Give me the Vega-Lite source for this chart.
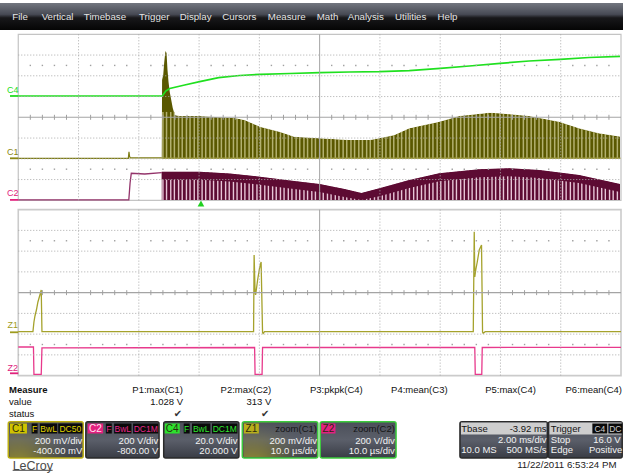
{
"$schema":"https://vega.github.io/schema/vega-lite/v6.json",
"width":624,"height":473,
"autosize":{"type":"fit","contains":"padding"},
"padding":0,
"background":"#ffffff",
"config":{"view":{"stroke":null},"axis":{"disable":true},"legend":{"disable":true},"font":"Liberation Sans"},
"resolve":{"scale":{"color":"independent","stroke":"independent"}},
"data":{"values":[{}]},
"datasets":{
"menu":[{"x":-0.099,"t":"File"},{"x":0.388,"t":"Vertical"},{"x":1.088,"t":"Timebase"},{"x":2.004,"t":"Trigger"},{"x":2.679,"t":"Display"},{"x":3.386,"t":"Cursors"},{"x":4.141,"t":"Measure"},{"x":4.953,"t":"Math"},{"x":5.466,"t":"Analysis"},{"x":6.252,"t":"Utilities"},{"x":6.957,"t":"Help"}],
"c1env":[{"x":2.381,"y":-1.98},{"x":2.386,"y":1.798},{"x":2.405,"y":2.039},{"x":2.422,"y":2.665},{"x":2.442,"y":3.195},{"x":2.46,"y":3.099},{"x":2.476,"y":2.28},{"x":2.493,"y":1.701},{"x":2.513,"y":1.219},{"x":2.538,"y":0.834},{"x":2.563,"y":0.448},{"x":2.596,"y":0.111},{"x":2.678,"y":0.063},{"x":3.01,"y":0.063},{"x":3.341,"y":0.0},{"x":3.589,"y":-0.034},{"x":3.755,"y":-0.13},{"x":4.01,"y":-0.453},{"x":4.335,"y":-0.694},{"x":4.579,"y":-0.935},{"x":4.998,"y":-1.012},{"x":5.495,"y":-1.094},{"x":5.828,"y":-1.094},{"x":5.992,"y":-1.012},{"x":6.24,"y":-0.853},{"x":6.488,"y":-0.53},{"x":6.985,"y":-0.212},{"x":7.317,"y":0.063},{"x":7.814,"y":0.222},{"x":7.979,"y":0.193},{"x":8.476,"y":0.063},{"x":8.974,"y":-0.212},{"x":9.304,"y":-0.53},{"x":9.635,"y":-0.771},{"x":9.983,"y":-0.925}],
"c2env":[{"x":2.381,"y":-2.622,"yb":-3.008},{"x":3.01,"y":-2.622,"yb":-3.008},{"x":3.507,"y":-2.708,"yb":-3.094},{"x":4.01,"y":-2.863,"yb":-3.249},{"x":4.508,"y":-3.046,"yb":-3.432},{"x":4.998,"y":-3.214,"yb":-3.6},{"x":5.412,"y":-3.455,"yb":-3.841},{"x":5.694,"y":-3.648,"yb":-3.98},{"x":5.992,"y":-3.422,"yb":-3.808},{"x":6.488,"y":-3.022,"yb":-3.408},{"x":6.985,"y":-2.699,"yb":-3.085},{"x":7.648,"y":-2.506,"yb":-2.892},{"x":8.145,"y":-2.458,"yb":-2.844},{"x":8.642,"y":-2.54,"yb":-2.926},{"x":9.304,"y":-2.781,"yb":-3.167},{"x":9.983,"y":-3.214,"yb":-3.6}],
"stripes":[{"x":2.40},{"x":2.46},{"x":2.53},{"x":2.59},{"x":2.66},{"x":2.72},{"x":2.79},{"x":2.85},{"x":2.92},{"x":2.98},{"x":3.05},{"x":3.11},{"x":3.18},{"x":3.24},{"x":3.31},{"x":3.37},{"x":3.44},{"x":3.50},{"x":3.57},{"x":3.63},{"x":3.70},{"x":3.76},{"x":3.83},{"x":3.89},{"x":3.96},{"x":4.02},{"x":4.09},{"x":4.15},{"x":4.22},{"x":4.28},{"x":4.35},{"x":4.41},{"x":4.48},{"x":4.54},{"x":4.61},{"x":4.67},{"x":4.74},{"x":4.80},{"x":4.87},{"x":4.93},{"x":5.00},{"x":5.06},{"x":5.13},{"x":5.19},{"x":5.26},{"x":5.32},{"x":5.39},{"x":5.45},{"x":5.52},{"x":5.58},{"x":5.65},{"x":5.71},{"x":5.78},{"x":5.84},{"x":5.91},{"x":5.97},{"x":6.04},{"x":6.10},{"x":6.17},{"x":6.23},{"x":6.30},{"x":6.36},{"x":6.43},{"x":6.49},{"x":6.56},{"x":6.62},{"x":6.69},{"x":6.75},{"x":6.82},{"x":6.88},{"x":6.95},{"x":7.01},{"x":7.08},{"x":7.14},{"x":7.21},{"x":7.27},{"x":7.34},{"x":7.40},{"x":7.47},{"x":7.53},{"x":7.60},{"x":7.66},{"x":7.73},{"x":7.79},{"x":7.86},{"x":7.92},{"x":7.99},{"x":8.05},{"x":8.12},{"x":8.18},{"x":8.25},{"x":8.31},{"x":8.38},{"x":8.44},{"x":8.51},{"x":8.57},{"x":8.64},{"x":8.70},{"x":8.77},{"x":8.83},{"x":8.90},{"x":8.96},{"x":9.03},{"x":9.09},{"x":9.16},{"x":9.22},{"x":9.29},{"x":9.35},{"x":9.42},{"x":9.48},{"x":9.55},{"x":9.61},{"x":9.68},{"x":9.74},{"x":9.81},{"x":9.87},{"x":9.94}],
"c1pre":[{"x":0,"y":-1.976},{"x":1.826,"y":-1.976},{"x":1.837,"y":-1.658},{"x":1.847,"y":-1.889},{"x":1.859,"y":-1.952},{"x":2.381,"y":-1.952}],
"c2pre":[{"x":0,"y":-3.98},{"x":1.834,"y":-3.98},{"x":1.855,"y":-3.166},{"x":1.875,"y":-2.699},{"x":2.099,"y":-2.733},{"x":2.381,"y":-2.67}],
"c4":[{"x":0,"y":1.027},{"x":2.389,"y":1.027},{"x":2.447,"y":1.267},{"x":2.513,"y":1.388},{"x":2.761,"y":1.557},{"x":3.01,"y":1.716},{"x":3.325,"y":1.908},{"x":3.672,"y":2.014},{"x":4.01,"y":2.072},{"x":4.507,"y":2.111},{"x":4.998,"y":2.149},{"x":5.495,"y":2.183},{"x":5.992,"y":2.198},{"x":6.488,"y":2.246},{"x":7.002,"y":2.361},{"x":7.483,"y":2.472},{"x":7.996,"y":2.602},{"x":8.476,"y":2.713},{"x":8.99,"y":2.795},{"x":9.47,"y":2.882},{"x":9.983,"y":2.94}],
"z1":[{"x":0,"y":-10.332},{"x":0.2435,"y":-10.332},{"x":0.26,"y":-9.865},{"x":0.277,"y":-9.576},{"x":0.301,"y":-9.287},{"x":0.326,"y":-8.901},{"x":0.359,"y":-8.564},{"x":0.381,"y":-8.323},{"x":0.393,"y":-10.332},{"x":3.904,"y":-10.332},{"x":3.913,"y":-6.636},{"x":3.929,"y":-8.419},{"x":3.938,"y":-8.564},{"x":3.971,"y":-7.841},{"x":4.004,"y":-7.263},{"x":4.029,"y":-6.974},{"x":4.053,"y":-10.371},{"x":4.062,"y":-10.419},{"x":4.086,"y":-10.332},{"x":7.549,"y":-10.332},{"x":7.565,"y":-5.513},{"x":7.574,"y":-7.696},{"x":7.59,"y":-7.359},{"x":7.615,"y":-6.974},{"x":7.648,"y":-6.395},{"x":7.686,"y":-6.154},{"x":7.703,"y":-10.347},{"x":7.714,"y":-10.41},{"x":7.747,"y":-10.332},{"x":10,"y":-10.332}],
"z2":[{"x":0,"y":-11.07},{"x":0.252,"y":-11.07},{"x":0.26,"y":-12.386},{"x":0.381,"y":-12.386},{"x":0.393,"y":-11.108},{"x":3.921,"y":-11.094},{"x":3.929,"y":-12.386},{"x":4.045,"y":-12.386},{"x":4.053,"y":-11.094},{"x":7.574,"y":-11.094},{"x":7.582,"y":-12.386},{"x":7.69,"y":-12.386},{"x":7.698,"y":-11.094},{"x":10,"y":-11.084}],
"vmaj":[{"x":1},{"x":2},{"x":3},{"x":4},{"x":6},{"x":7},{"x":8},{"x":9}],
"hmaj":[{"y":1},{"y":2},{"y":3},{"y":-1},{"y":-2},{"y":-3},{"y":-5.45},{"y":-6.45},{"y":-7.45},{"y":-9.45},{"y":-10.45},{"y":-11.45}],
"vctr":[{"x":5,"y":-4,"y2":4},{"x":5,"y":-12.45,"y2":-4.45}],
"hctr":[{"y":0},{"y":-8.45}],
"minor":[{"x":0.2},{"x":0.4},{"x":0.6},{"x":0.8},{"x":1.2},{"x":1.4},{"x":1.6},{"x":1.8},{"x":2.2},{"x":2.4},{"x":2.6},{"x":2.8},{"x":3.2},{"x":3.4},{"x":3.6},{"x":3.8},{"x":4.2},{"x":4.4},{"x":4.6},{"x":4.8},{"x":5.2},{"x":5.4},{"x":5.6},{"x":5.8},{"x":6.2},{"x":6.4},{"x":6.6},{"x":6.8},{"x":7.2},{"x":7.4},{"x":7.6},{"x":7.8},{"x":8.2},{"x":8.4},{"x":8.6},{"x":8.8},{"x":9.2},{"x":9.4},{"x":9.6},{"x":9.8}],
"labels":[{"x":-0.091,"y":1.316,"t":"C4","c":"C4"},{"x":-0.091,"y":-1.658,"t":"C1","c":"C1"},{"x":-0.091,"y":-3.663,"t":"C2","c":"C2"},{"x":-0.091,"y":-10.01,"t":"Z1","c":"Z1"},{"x":-0.091,"y":-12.096,"t":"Z2","c":"Z2"}],
"markers":[{"y":1.027,"c":"C4"},{"y":-1.976,"c":"C1"},{"y":-3.98,"c":"C2"},{"y":-10.361,"c":"Z1"},{"y":-12.337,"c":"Z2"}],
"mright":[{"x":2.733,"y":-13.157,"t":"P1:max(C1)"},{"x":4.198,"y":-13.157,"t":"P2:max(C2)"},{"x":5.715,"y":-13.157,"t":"P3:pkpk(C4)"},{"x":7.123,"y":-13.157,"t":"P4:mean(C3)"},{"x":8.587,"y":-13.157,"t":"P5:max(C4)"},{"x":10.017,"y":-13.157,"t":"P6:mean(C4)"},{"x":2.733,"y":-13.735,"t":"1.028 V"},{"x":4.198,"y":-13.735,"t":"313 V"}],
"mleft":[{"x":-0.154,"y":-13.735,"t":"value"},{"x":-0.154,"y":-14.299,"t":"status"}],
"mbold":[{"x":-0.154,"y":-13.157,"t":"Measure"}],
"checks":[{"x":2.65,"y":-14.299,"t":"✔"},{"x":4.098,"y":-14.299,"t":"✔"}],
"boxes":[{"x":-0.166,"x2":1.077,"id":"C1"},{"x":1.121,"x2":2.336,"id":"C2"},{"x":2.413,"x2":3.661,"id":"C4"},{"x":3.717,"x2":4.97,"id":"Z1"},{"x":5.009,"x2":6.268,"id":"Z2"},{"x":7.328,"x2":8.779,"id":"Tbase"},{"x":8.796,"x2":10.02,"id":"Trigger"}],
"glow":[{"x":-0.15,"x2":1.06},{"x":3.733,"x2":4.953}],
"hdr":[{"x":7.345,"x2":8.763},{"x":8.813,"x2":10.01}],
"tags":[{"x":-0.137,"x2":0.144,"k":"y"},{"x":0.222,"x2":0.321,"k":"b"},{"x":0.359,"x2":0.646,"k":"b"},{"x":0.663,"x2":1.063,"k":"b"},{"x":1.15,"x2":1.408,"k":"p"},{"x":1.453,"x2":1.552,"k":"b"},{"x":1.59,"x2":1.878,"k":"b"},{"x":1.905,"x2":2.322,"k":"b"},{"x":2.43,"x2":2.679,"k":"g"},{"x":2.745,"x2":2.844,"k":"b"},{"x":2.882,"x2":3.187,"k":"b"},{"x":3.214,"x2":3.636,"k":"b"},{"x":3.744,"x2":3.992,"k":"o"},{"x":5.026,"x2":5.263,"k":"p"},{"x":9.525,"x2":9.773,"k":"b"},{"x":9.79,"x2":10.02,"k":"b"}],
"tagbig":[{"x":0.0035,"t":"C1","k":"dk"},{"x":1.279,"t":"C2","k":"pl"},{"x":2.554,"t":"C4","k":"dk"},{"x":3.868,"t":"Z1","k":"dk"},{"x":5.145,"t":"Z2","k":"dk"}],
"tagsmall":[{"x":0.272,"t":"F","k":"ys"},{"x":0.503,"t":"BwL","k":"ys"},{"x":0.863,"t":"DC50","k":"ys"},{"x":1.502,"t":"F","k":"ps"},{"x":1.734,"t":"BwL","k":"ps"},{"x":2.114,"t":"DC1M","k":"ps"},{"x":2.794,"t":"F","k":"gs"},{"x":3.035,"t":"BwL","k":"gs"},{"x":3.425,"t":"DC1M","k":"gs"},{"x":9.649,"t":"C4","k":"lt"},{"x":9.905,"t":"DC","k":"lt"}],
"bright":[{"x":1.063,"y":-15.614,"t":"200 mV/div"},{"x":1.063,"y":-16.096,"t":"-400.00 mV"},{"x":2.322,"y":-15.614,"t":"200 V/div"},{"x":2.322,"y":-16.096,"t":"-800.00 V"},{"x":3.636,"y":-15.614,"t":"20.0 V/div"},{"x":3.636,"y":-16.096,"t":"20.000 V"},{"x":4.956,"y":-15.614,"t":"200 mV/div"},{"x":4.956,"y":-16.096,"t":"10.0 µs/div"},{"x":6.248,"y":-15.614,"t":"200 V/div"},{"x":6.248,"y":-16.096,"t":"10.0 µs/div"},{"x":8.766,"y":-15.537,"t":"2.00 ms/div"},{"x":8.766,"y":-16.019,"t":"500 MS/s"},{"x":9.995,"y":-15.537,"t":"16.0 V"},{"x":10.02,"y":-16.019,"t":"Positive"}],
"bleft":[{"x":7.35,"y":-16.019,"t":"10.0 MS"},{"x":8.836,"y":-15.537,"t":"Stop"},{"x":8.836,"y":-16.019,"t":"Edge"}],
"hleft":[{"x":7.35,"y":-15.007,"t":"Tbase"},{"x":8.836,"y":-15.007,"t":"Trigger"}],
"hright":[{"x":8.766,"y":-15.007,"t":"-3.92 ms"},{"x":4.956,"y":-15.007,"t":"zoom(C1)"},{"x":6.248,"y":-15.007,"t":"zoom(C2)"}]
},
"layer":[
{"mark":{"type":"rect","fill":{"gradient":"linear","x1":0,"y1":0,"x2":0,"y2":1,"stops":[{"offset":0,"color":"#72767f"},{"offset":0.42,"color":"#474a54"},{"offset":0.55,"color":"#18181a"},{"offset":1,"color":"#050505"}]}},
 "encoding":{"x":{"datum":-0.3031,"type":"quantitative","scale":{"domain":[-0.3031,10.0332],"nice":false,"zero":false}},"x2":{"datum":10.0332},"y":{"datum":5.508,"type":"quantitative","scale":{"domain":[-17.1422,5.653],"nice":false,"zero":false}},"y2":{"datum":4.207}}},
{"data":{"name":"menu"},"mark":{"type":"text","align":"left","baseline":"middle","fontSize":9.7,"color":"#e4e4e4"},
 "encoding":{"x":{"field":"x","type":"quantitative","scale":{"domain":[-0.3031,10.0332],"nice":false,"zero":false}},"y":{"datum":4.834,"type":"quantitative","scale":{"domain":[-17.1422,5.653],"nice":false,"zero":false}},"text":{"field":"t"}}},
{"mark":{"type":"rect","fill":"#ffffff","fillOpacity":0,"stroke":"#c4c4c4","strokeWidth":1.2},
 "encoding":{"x":{"datum":0,"type":"quantitative","scale":{"domain":[-0.3031,10.0332],"nice":false,"zero":false}},"x2":{"datum":10},"y":{"datum":-4,"type":"quantitative","scale":{"domain":[-17.1422,5.653],"nice":false,"zero":false}},"y2":{"datum":4}}},
{"mark":{"type":"rect","fill":"#ffffff","fillOpacity":0,"stroke":"#cbcbcb","strokeWidth":1.6},
 "encoding":{"x":{"datum":0,"type":"quantitative","scale":{"domain":[-0.3031,10.0332],"nice":false,"zero":false}},"x2":{"datum":10},"y":{"datum":-12.45,"type":"quantitative","scale":{"domain":[-17.1422,5.653],"nice":false,"zero":false}},"y2":{"datum":-4.45}}},
{"data":{"name":"c1env"},"mark":{"type":"area","color":"#5a5800"},
 "encoding":{"x":{"field":"x","type":"quantitative","scale":{"domain":[-0.3031,10.0332],"nice":false,"zero":false}},"y":{"field":"y","type":"quantitative","scale":{"domain":[-17.1422,5.653],"nice":false,"zero":false}},"y2":{"datum":-1.98}}},
{"data":{"name":"c2env"},"mark":{"type":"area","color":"#5d0b33"},
 "encoding":{"x":{"field":"x","type":"quantitative","scale":{"domain":[-0.3031,10.0332],"nice":false,"zero":false}},"y":{"field":"y","type":"quantitative","scale":{"domain":[-17.1422,5.653],"nice":false,"zero":false}},"y2":{"datum":-3.98}}},
{"data":{"name":"stripes"},"mark":{"type":"rule","color":"#b3b16f","strokeWidth":1.5},
 "encoding":{"x":{"field":"x","type":"quantitative","scale":{"domain":[-0.3031,10.0332],"nice":false,"zero":false}},"y":{"datum":-1.98,"type":"quantitative","scale":{"domain":[-17.1422,5.653],"nice":false,"zero":false}},"y2":{"datum":0.26}}},
{"data":{"name":"stripes"},"mark":{"type":"rule","color":"#e7c5d7","strokeWidth":1.4},
 "encoding":{"x":{"field":"x","type":"quantitative","scale":{"domain":[-0.3031,10.0332],"nice":false,"zero":false}},"y":{"datum":-3.98,"type":"quantitative","scale":{"domain":[-17.1422,5.653],"nice":false,"zero":false}},"y2":{"datum":-2.35}}},
{"data":{"name":"c1env"},"transform":[{"filter":"datum.x >= 2.59"}],"mark":{"type":"area","color":"#ffffff"},
 "encoding":{"x":{"field":"x","type":"quantitative","scale":{"domain":[-0.3031,10.0332],"nice":false,"zero":false}},"y":{"field":"y","type":"quantitative","scale":{"domain":[-17.1422,5.653],"nice":false,"zero":false}},"y2":{"datum":0.27}}},
{"data":{"name":"c2env"},"mark":{"type":"area","color":"#ffffff"},
 "encoding":{"x":{"field":"x","type":"quantitative","scale":{"domain":[-0.3031,10.0332],"nice":false,"zero":false}},"y":{"field":"y","type":"quantitative","scale":{"domain":[-17.1422,5.653],"nice":false,"zero":false}},"y2":{"datum":-2.34}}},
{"data":{"name":"c2env"},"mark":{"type":"area","color":"#5d0b33"},
 "encoding":{"x":{"field":"x","type":"quantitative","scale":{"domain":[-0.3031,10.0332],"nice":false,"zero":false}},"y":{"field":"y","type":"quantitative","scale":{"domain":[-17.1422,5.653],"nice":false,"zero":false}},"y2":{"field":"yb"}}},
{"mark":{"type":"rule","color":"#9d9a3a","strokeWidth":1.6},
 "encoding":{"x":{"datum":2.381,"type":"quantitative","scale":{"domain":[-0.3031,10.0332],"nice":false,"zero":false}},"x2":{"datum":9.99},"y":{"datum":-1.976,"type":"quantitative","scale":{"domain":[-17.1422,5.653],"nice":false,"zero":false}}}},
{"data":{"name":"c1pre"},"mark":{"type":"line","color":"#7e7c14","strokeWidth":1.2},
 "encoding":{"x":{"field":"x","type":"quantitative","scale":{"domain":[-0.3031,10.0332],"nice":false,"zero":false}},"y":{"field":"y","type":"quantitative","scale":{"domain":[-17.1422,5.653],"nice":false,"zero":false}}}},
{"data":{"name":"c2pre"},"mark":{"type":"line","color":"#93336a","strokeWidth":1.3},
 "encoding":{"x":{"field":"x","type":"quantitative","scale":{"domain":[-0.3031,10.0332],"nice":false,"zero":false}},"y":{"field":"y","type":"quantitative","scale":{"domain":[-17.1422,5.653],"nice":false,"zero":false}}}},
{"data":{"name":"c4"},"mark":{"type":"line","color":"#1fe01f","strokeWidth":1.7},
 "encoding":{"x":{"field":"x","type":"quantitative","scale":{"domain":[-0.3031,10.0332],"nice":false,"zero":false}},"y":{"field":"y","type":"quantitative","scale":{"domain":[-17.1422,5.653],"nice":false,"zero":false}}}},
{"data":{"name":"z1"},"mark":{"type":"line","color":"#a5a22c","strokeWidth":1.3},
 "encoding":{"x":{"field":"x","type":"quantitative","scale":{"domain":[-0.3031,10.0332],"nice":false,"zero":false}},"y":{"field":"y","type":"quantitative","scale":{"domain":[-17.1422,5.653],"nice":false,"zero":false}}}},
{"data":{"name":"z2"},"mark":{"type":"line","color":"#e8398c","strokeWidth":1.3},
 "encoding":{"x":{"field":"x","type":"quantitative","scale":{"domain":[-0.3031,10.0332],"nice":false,"zero":false}},"y":{"field":"y","type":"quantitative","scale":{"domain":[-17.1422,5.653],"nice":false,"zero":false}}}},
{"data":{"name":"vmaj"},"mark":{"type":"rule","color":"#aaaaaa","strokeWidth":1,"strokeDash":[1,2]},
 "encoding":{"x":{"field":"x","type":"quantitative","scale":{"domain":[-0.3031,10.0332],"nice":false,"zero":false}},"y":{"datum":-4,"type":"quantitative","scale":{"domain":[-17.1422,5.653],"nice":false,"zero":false}},"y2":{"datum":4}}},
{"data":{"name":"vmaj"},"mark":{"type":"rule","color":"#aaaaaa","strokeWidth":1,"strokeDash":[1,2]},
 "encoding":{"x":{"field":"x","type":"quantitative","scale":{"domain":[-0.3031,10.0332],"nice":false,"zero":false}},"y":{"datum":-12.45,"type":"quantitative","scale":{"domain":[-17.1422,5.653],"nice":false,"zero":false}},"y2":{"datum":-4.45}}},
{"data":{"name":"hmaj"},"mark":{"type":"rule","color":"#aaaaaa","strokeWidth":1,"strokeDash":[1,2]},
 "encoding":{"x":{"datum":0,"type":"quantitative","scale":{"domain":[-0.3031,10.0332],"nice":false,"zero":false}},"x2":{"datum":10},"y":{"field":"y","type":"quantitative","scale":{"domain":[-17.1422,5.653],"nice":false,"zero":false}}}},
{"data":{"name":"vctr"},"mark":{"type":"rule","color":"#a4a4a4","strokeWidth":1},
 "encoding":{"x":{"field":"x","type":"quantitative","scale":{"domain":[-0.3031,10.0332],"nice":false,"zero":false}},"y":{"field":"y","type":"quantitative","scale":{"domain":[-17.1422,5.653],"nice":false,"zero":false}},"y2":{"field":"y2"}}},
{"data":{"name":"hctr"},"mark":{"type":"rule","color":"#a4a4a4","strokeWidth":1.1},
 "encoding":{"x":{"datum":0,"type":"quantitative","scale":{"domain":[-0.3031,10.0332],"nice":false,"zero":false}},"x2":{"datum":10},"y":{"field":"y","type":"quantitative","scale":{"domain":[-17.1422,5.653],"nice":false,"zero":false}}}},
{"data":{"name":"minor"},"mark":{"type":"rule","color":"#a0a0a0","strokeWidth":1},
 "encoding":{"x":{"field":"x","type":"quantitative","scale":{"domain":[-0.3031,10.0332],"nice":false,"zero":false}},"y":{"datum":-0.12,"type":"quantitative","scale":{"domain":[-17.1422,5.653],"nice":false,"zero":false}},"y2":{"datum":0.12}}},
{"data":{"name":"minor"},"mark":{"type":"rule","color":"#a0a0a0","strokeWidth":1},
 "encoding":{"x":{"field":"x","type":"quantitative","scale":{"domain":[-0.3031,10.0332],"nice":false,"zero":false}},"y":{"datum":-8.57,"type":"quantitative","scale":{"domain":[-17.1422,5.653],"nice":false,"zero":false}},"y2":{"datum":-8.33}}},
{"data":{"name":"minor"},"mark":{"type":"point","shape":"square","size":2,"filled":true,"color":"#a0a0a0","opacity":1},
 "encoding":{"x":{"field":"x","type":"quantitative","scale":{"domain":[-0.3031,10.0332],"nice":false,"zero":false}},"y":{"datum":2.5,"type":"quantitative","scale":{"domain":[-17.1422,5.653],"nice":false,"zero":false}}}},
{"data":{"name":"minor"},"mark":{"type":"point","shape":"square","size":2,"filled":true,"color":"#a0a0a0","opacity":1},
 "encoding":{"x":{"field":"x","type":"quantitative","scale":{"domain":[-0.3031,10.0332],"nice":false,"zero":false}},"y":{"datum":-2.5,"type":"quantitative","scale":{"domain":[-17.1422,5.653],"nice":false,"zero":false}}}},
{"data":{"name":"minor"},"mark":{"type":"point","shape":"square","size":2,"filled":true,"color":"#a0a0a0","opacity":1},
 "encoding":{"x":{"field":"x","type":"quantitative","scale":{"domain":[-0.3031,10.0332],"nice":false,"zero":false}},"y":{"datum":-5.95,"type":"quantitative","scale":{"domain":[-17.1422,5.653],"nice":false,"zero":false}}}},
{"data":{"name":"minor"},"mark":{"type":"point","shape":"square","size":2,"filled":true,"color":"#a0a0a0","opacity":1},
 "encoding":{"x":{"field":"x","type":"quantitative","scale":{"domain":[-0.3031,10.0332],"nice":false,"zero":false}},"y":{"datum":-10.95,"type":"quantitative","scale":{"domain":[-17.1422,5.653],"nice":false,"zero":false}}}},
{"mark":{"type":"point","shape":"triangle-up","size":45,"filled":true,"color":"#20d020","opacity":1},
 "encoding":{"x":{"datum":3.031,"type":"quantitative","scale":{"domain":[-0.3031,10.0332],"nice":false,"zero":false}},"y":{"datum":-4.154,"type":"quantitative","scale":{"domain":[-17.1422,5.653],"nice":false,"zero":false}}}},
{"data":{"name":"labels"},"mark":{"type":"text","align":"center","baseline":"middle","fontSize":9},
 "encoding":{"x":{"field":"x","type":"quantitative","scale":{"domain":[-0.3031,10.0332],"nice":false,"zero":false}},"y":{"field":"y","type":"quantitative","scale":{"domain":[-17.1422,5.653],"nice":false,"zero":false}},"text":{"field":"t"},"color":{"field":"c","type":"nominal","legend":null,"scale":{"domain":["C4","C1","C2","Z1","Z2"],"range":["#22dd22","#8a8712","#e0227c","#9e9b1e","#e0227c"]}}}},
{"data":{"name":"markers"},"mark":{"type":"rule","strokeWidth":1.8},
 "encoding":{"x":{"datum":-0.137,"type":"quantitative","scale":{"domain":[-0.3031,10.0332],"nice":false,"zero":false}},"x2":{"datum":0},"y":{"field":"y","type":"quantitative","scale":{"domain":[-17.1422,5.653],"nice":false,"zero":false}},"color":{"field":"c","type":"nominal","legend":null,"scale":{"domain":["C4","C1","C2","Z1","Z2"],"range":["#22dd22","#8a8712","#e0227c","#9e9b1e","#e0227c"]}}}},
{"data":{"name":"mright"},"mark":{"type":"text","align":"right","baseline":"middle","fontSize":9.5,"color":"#111111"},
 "encoding":{"x":{"field":"x","type":"quantitative","scale":{"domain":[-0.3031,10.0332],"nice":false,"zero":false}},"y":{"field":"y","type":"quantitative","scale":{"domain":[-17.1422,5.653],"nice":false,"zero":false}},"text":{"field":"t"}}},
{"data":{"name":"mleft"},"mark":{"type":"text","align":"left","baseline":"middle","fontSize":9.5,"color":"#111111"},
 "encoding":{"x":{"field":"x","type":"quantitative","scale":{"domain":[-0.3031,10.0332],"nice":false,"zero":false}},"y":{"field":"y","type":"quantitative","scale":{"domain":[-17.1422,5.653],"nice":false,"zero":false}},"text":{"field":"t"}}},
{"data":{"name":"mbold"},"mark":{"type":"text","align":"left","baseline":"middle","fontSize":9.5,"fontWeight":"bold","color":"#111111"},
 "encoding":{"x":{"field":"x","type":"quantitative","scale":{"domain":[-0.3031,10.0332],"nice":false,"zero":false}},"y":{"field":"y","type":"quantitative","scale":{"domain":[-17.1422,5.653],"nice":false,"zero":false}},"text":{"field":"t"}}},
{"data":{"name":"checks"},"mark":{"type":"text","align":"center","baseline":"middle","fontSize":10,"font":"DejaVu Sans","color":"#333333"},
 "encoding":{"x":{"field":"x","type":"quantitative","scale":{"domain":[-0.3031,10.0332],"nice":false,"zero":false}},"y":{"field":"y","type":"quantitative","scale":{"domain":[-17.1422,5.653],"nice":false,"zero":false}},"text":{"field":"t"}}},
{"data":{"name":"boxes"},"mark":{"type":"rect","cornerRadius":2,"strokeWidth":1.5,"fill":{"gradient":"linear","x1":0,"y1":0,"x2":0,"y2":1,"stops":[{"offset":0,"color":"#4b4f59"},{"offset":0.5,"color":"#5b5f6a"},{"offset":1,"color":"#393c45"}]}},
 "encoding":{"x":{"field":"x","type":"quantitative","scale":{"domain":[-0.3031,10.0332],"nice":false,"zero":false}},"x2":{"field":"x2"},"y":{"datum":-14.67,"type":"quantitative","scale":{"domain":[-17.1422,5.653],"nice":false,"zero":false}},"y2":{"datum":-16.419},"stroke":{"field":"id","type":"nominal","legend":null,"scale":{"domain":["C1","C2","C4","Z1","Z2","Tbase","Trigger"],"range":["#bcae10","#2a2a2a","#2a2a2a","#3ccc3c","#3ccc3c","#2a2a2a","#2a2a2a"]}}}},
{"data":{"name":"glow"},"mark":{"type":"rect","fill":{"gradient":"radial","x1":0.12,"y1":1,"r1":0,"x2":0.12,"y2":1,"r2":0.85,"stops":[{"offset":0,"color":"rgba(200,190,40,0.95)"},{"offset":0.5,"color":"rgba(160,150,50,0.45)"},{"offset":1,"color":"rgba(90,94,106,0)"}]}},
 "encoding":{"x":{"field":"x","type":"quantitative","scale":{"domain":[-0.3031,10.0332],"nice":false,"zero":false}},"x2":{"field":"x2"},"y":{"datum":-14.72,"type":"quantitative","scale":{"domain":[-17.1422,5.653],"nice":false,"zero":false}},"y2":{"datum":-16.37}}},
{"data":{"name":"hdr"},"mark":{"type":"rect","fill":"#cecece"},
 "encoding":{"x":{"field":"x","type":"quantitative","scale":{"domain":[-0.3031,10.0332],"nice":false,"zero":false}},"x2":{"field":"x2"},"y":{"datum":-14.708,"type":"quantitative","scale":{"domain":[-17.1422,5.653],"nice":false,"zero":false}},"y2":{"datum":-15.287}}},
{"data":{"name":"tags"},"mark":{"type":"rect"},
 "encoding":{"x":{"field":"x","type":"quantitative","scale":{"domain":[-0.3031,10.0332],"nice":false,"zero":false}},"x2":{"field":"x2"},"y":{"datum":-14.757,"type":"quantitative","scale":{"domain":[-17.1422,5.653],"nice":false,"zero":false}},"y2":{"datum":-15.239},"color":{"field":"k","type":"nominal","legend":null,"scale":{"domain":["y","b","p","g","o"],"range":["#cfc300","#0a0a0a","#e3207f","#2de22d","#b9ae1c"]}}}},
{"data":{"name":"tagbig"},"mark":{"type":"text","align":"center","baseline":"middle","fontSize":10},
 "encoding":{"x":{"field":"x","type":"quantitative","scale":{"domain":[-0.3031,10.0332],"nice":false,"zero":false}},"y":{"datum":-15.007,"type":"quantitative","scale":{"domain":[-17.1422,5.653],"nice":false,"zero":false}},"text":{"field":"t"},"color":{"field":"k","type":"nominal","legend":null,"scale":{"domain":["dk","pl"],"range":["#2a2a10","#ffe0f0"]}}}},
{"data":{"name":"tagsmall"},"mark":{"type":"text","align":"center","baseline":"middle","fontSize":8.5},
 "encoding":{"x":{"field":"x","type":"quantitative","scale":{"domain":[-0.3031,10.0332],"nice":false,"zero":false}},"y":{"datum":-15.007,"type":"quantitative","scale":{"domain":[-17.1422,5.653],"nice":false,"zero":false}},"text":{"field":"t"},"color":{"field":"k","type":"nominal","legend":null,"scale":{"domain":["ys","ps","gs","lt"],"range":["#e0d400","#e8288a","#30e830","#d0d0d0"]}}}},
{"data":{"name":"bright"},"mark":{"type":"text","align":"right","baseline":"middle","fontSize":9.5,"color":"#f2f2f2"},
 "encoding":{"x":{"field":"x","type":"quantitative","scale":{"domain":[-0.3031,10.0332],"nice":false,"zero":false}},"y":{"field":"y","type":"quantitative","scale":{"domain":[-17.1422,5.653],"nice":false,"zero":false}},"text":{"field":"t"}}},
{"data":{"name":"bleft"},"mark":{"type":"text","align":"left","baseline":"middle","fontSize":9.5,"color":"#f2f2f2"},
 "encoding":{"x":{"field":"x","type":"quantitative","scale":{"domain":[-0.3031,10.0332],"nice":false,"zero":false}},"y":{"field":"y","type":"quantitative","scale":{"domain":[-17.1422,5.653],"nice":false,"zero":false}},"text":{"field":"t"}}},
{"data":{"name":"hleft"},"mark":{"type":"text","align":"left","baseline":"middle","fontSize":9.5,"color":"#151515"},
 "encoding":{"x":{"field":"x","type":"quantitative","scale":{"domain":[-0.3031,10.0332],"nice":false,"zero":false}},"y":{"field":"y","type":"quantitative","scale":{"domain":[-17.1422,5.653],"nice":false,"zero":false}},"text":{"field":"t"}}},
{"data":{"name":"hright"},"mark":{"type":"text","align":"right","baseline":"middle","fontSize":9.5,"color":"#151515"},
 "encoding":{"x":{"field":"x","type":"quantitative","scale":{"domain":[-0.3031,10.0332],"nice":false,"zero":false}},"y":{"field":"y","type":"quantitative","scale":{"domain":[-17.1422,5.653],"nice":false,"zero":false}},"text":{"field":"t"}}},
{"mark":{"type":"text","align":"left","baseline":"middle","fontSize":12.5,"color":"#4a4a4a"},
 "encoding":{"x":{"datum":-0.093,"type":"quantitative","scale":{"domain":[-0.3031,10.0332],"nice":false,"zero":false}},"y":{"datum":-16.781,"type":"quantitative","scale":{"domain":[-17.1422,5.653],"nice":false,"zero":false}},"text":{"value":"LeCroy"}}},
{"mark":{"type":"rule","color":"#4a4a4a","strokeWidth":1},
 "encoding":{"x":{"datum":-0.093,"type":"quantitative","scale":{"domain":[-0.3031,10.0332],"nice":false,"zero":false}},"x2":{"datum":0.57},"y":{"datum":-17.012,"type":"quantitative","scale":{"domain":[-17.1422,5.653],"nice":false,"zero":false}}}},
{"mark":{"type":"text","align":"right","baseline":"middle","fontSize":9.7,"color":"#222222"},
 "encoding":{"x":{"datum":9.925,"type":"quantitative","scale":{"domain":[-0.3031,10.0332],"nice":false,"zero":false}},"y":{"datum":-16.771,"type":"quantitative","scale":{"domain":[-17.1422,5.653],"nice":false,"zero":false}},"text":{"value":"11/22/2011 6:53:24 PM"}}}
]
}
